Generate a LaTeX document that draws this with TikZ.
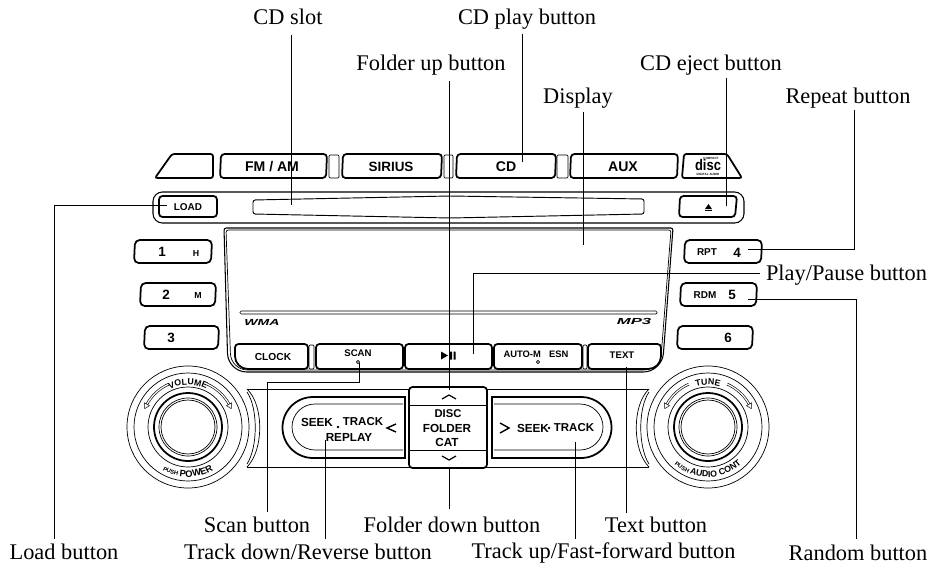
\documentclass[tikz,border=0pt]{standalone}
\usepackage{fontspec}
\setmainfont{Liberation Serif}
\setsansfont{Liberation Sans}
\usetikzlibrary{calc, decorations.text}
\tikzset{
  lbl/.style={font=\fontsize{19.1}{20}\selectfont, inner sep=0pt, anchor=base},
  txt/.style={font=\sffamily\bfseries\fontsize{#1}{#1}\selectfont, inner sep=0pt},
  logo/.style={font=\sffamily\bfseries\itshape\fontsize{7.5}{8}\selectfont, inner sep=0pt},
  btn/.style={line width=1.5pt, rounded corners=3, fill=white},
  thinl/.style={line width=0.6pt},
  lead/.style={line width=0.6pt},
}
\newcommand{\arctext}[1]{\sffamily\bfseries\fontsize{#1}{#1}\selectfont}
\begin{document}
\begin{tikzpicture}[x=0.03cm, y=-0.03cm]
\useasboundingbox (0,0) rectangle (928,563);
% top row
\draw[btn, rounded corners=2] (155,178) -- (172,154) -- (213,154) -- (213,178) -- cycle;
\foreach \xa/\xb in {220/327, 342/442, 456/556, 570/678} {
\draw[btn] (\xa+1,154) -- (\xb,154) -- (\xb-1,178) -- (\xa,178) -- cycle;}
\foreach \xa/\xb in {329/339, 444/453, 557/568} {
\draw[thinl, rounded corners=1] (\xa,155) rectangle (\xb,178);}
\draw[btn, rounded corners=2] (684,154) -- (727,154) -- (742,178) -- (682,178) -- cycle;
\node[txt=12] (fmam) at (272,167) {FM / AM};
\node[txt=11.5] (sirius) at (391,167) {SIRIUS};
\node[txt=12] (cdbtn) at (506,167) {CD};
\node[txt=12] (aux) at (623,167) {AUX};
\node[txt=13, xscale=0.85] (disclogo) at (708,165.5) {disc};
\node[txt=2.6] (compact) at (711,158) {COMPACT};
\node[txt=2.6] (digital) at (708,174) {DIGITAL AUDIO};
% slot panel
\draw[thinl, line width=0.9pt, rounded corners=8] (153,192) rectangle (744,223);
\draw[btn] (159,196) rectangle (217,217);
\node[txt=8.5] (load) at (188,207) {LOAD};
\draw[thinl, line width=0.8pt, rounded corners=2] (253,200) -- (450,196) -- (644,199) -- (644,214) -- (450,218) -- (253,214) -- cycle;
\draw[btn] (680,196) -- (737,196) -- (735,217) -- (679,217) -- cycle;
\fill (705,209) -- (708.5,204) -- (712,209) -- cycle;
\fill (705,209.5) rectangle (712,211);
% display
\draw[thinl, line width=0.9pt] (224,228) [rounded corners=2] -- (673,228) [rounded corners=16] -- (662,372) -- (228,372) [rounded corners=2] -- cycle;
\draw[thinl] (226,230) [rounded corners=2] -- (671,230) [rounded corners=14] -- (660,370) -- (231,370) [rounded corners=2] -- cycle;
\draw[line width=0.5pt, rounded corners=1] (240,311) rectangle (657,314);
\node[logo, xscale=1.6] (wma) at (262,322) {WMA};
\node[logo, xscale=1.9] (mpt) at (634,321) {MP3};
\draw[btn, rounded corners=3] (235,344) -- (308,344) -- (308,369) [rounded corners=11] -- (235,369) [rounded corners=3] -- cycle;
\draw[btn, rounded corners=3] (588,344) -- (661,344) [rounded corners=11] -- (661,369) [rounded corners=3] -- (588,369) -- cycle;
\foreach \xa/\xb in {316/403, 405/492, 494/582} {
\draw[btn] (\xa,344) rectangle (\xb,369);}
\foreach \xa/\xb in {309/314, 583/587} {
\draw[thinl, rounded corners=1] (\xa,345) rectangle (\xb,369);}
\node[txt=8.7] (clock) at (273,357) {CLOCK};
\node[txt=8.2] (scan) at (358,353) {SCAN};
\draw[thinl] (358,362) circle (1.6);
\fill (441,351.5) -- (448,355.5) -- (441,359.5) -- cycle;
\fill (450,351.5) rectangle (452,359.5) (453.5,351.5) rectangle (455.5,359.5);
\node[txt=8] (auto) at (536,354) {AUTO-M\hspace{7pt}ESN};
\draw[thinl] (538,362) circle (1.6);
\node[txt=8.2] (text) at (622,355) {TEXT};
% preset buttons
\foreach \xa/\xb/\ya in {134/212/240, 140/216/283, 144/219/326, 684/762/240, 680/757/283, 677/753/326} {
\draw[btn, rounded corners=4] (\xa+1,\ya) -- (\xb,\ya) -- (\xb-1,\ya+23) -- (\xa,\ya+23) -- cycle;}
\foreach \n/\px/\py/\t/\s in {one/162/252/1/11.5, h/196/253/H/7.5, two/166/295/2/11.5, m/198/295/M/7.5, three/171/338/3/11.5, rpt/707/252/RPT/8.5, four/737/253/4/11.5, rdm/705/295/RDM/8.5, five/732/295/5/11.5, six/728/338/6/11.5} {
\node[txt=\s] (\n) at (\px,\py) {\t};}
% knobs
\foreach \cx in {188, 708} {
\draw[thinl] (\cx,427) circle (61) (\cx,427) circle (54) (\cx,427) circle (40);
\draw[line width=1.5pt] (\cx,427) circle (34);
\draw[thinl] (\cx,427) circle (29) (\cx,427) circle (27);
\foreach \a/\b/\c in {-114/-151/-157, -66/-29/-23} {
\draw[line width=0.4pt] (\cx,427) ++(\a:46) arc (\a:\b:46) (\cx,427) ++(\a:48) arc (\a:\b:48);
\draw[line width=0.4pt] ($(\cx,427)+(\b:44)$) -- ($(\cx,427)+(\c:47)$) -- ($(\cx,427)+(\b:50)$) -- cycle;}
}
\path[decorate, decoration={text along path, text align=center, text={|\arctext{7.5}|VOLUME}}] (188,427) ++(-130:42) arc (-130:-50:42);
\path[decorate, decoration={text along path, text align=center, text={|\arctext{7.5}|TUNE}}] (708,427) ++(-130:42) arc (-130:-50:42);
\path[decorate, decoration={text along path, text align=center, text={|\arctext{5}|PUSH |\arctext{8}|POWER}}] (188,427) ++(130:50) arc (130:50:50);
\path[decorate, decoration={text along path, text align=center, text={|\arctext{5}|PUSH  |\arctext{7.5}|AUDIO CONT}}] (708,427) ++(145:50) arc (145:35:50);
% centre panel
\draw[thinl] (247,389) -- (649,389) (247,467) -- (649,467);
\draw[thinl] (247,389) .. controls (264,405) and (264,450) .. (247,467);
\draw[thinl] (247,392) .. controls (258,408) and (258,447) .. (247,464);
\draw[thinl] (649,389) .. controls (632,405) and (632,450) .. (649,467);
\draw[thinl] (649,392) .. controls (638,408) and (638,447) .. (649,464);
\draw[line width=1.5pt, fill=white] (405,397) -- (313,397) arc (-90:-270:30.5) -- (405,458) -- cycle;
\draw[thinl] (403,404) -- (315,404) arc (-90:-270:23) -- (403,450);
\draw[line width=1.5pt, fill=white] (492,397) -- (581,397) arc (-90:90:30.5) -- (492,458) -- cycle;
\draw[thinl] (494,404) -- (580,404) arc (-90:90:23) -- (494,450);
\draw[btn] (409,387) rectangle (487,468);
\draw[thinl] (409,405) -- (487,405) (409,450) -- (487,450);
\draw[line width=1pt] (442,399) -- (449,395) -- (456,399);
\draw[line width=1pt] (442,456) -- (449,460) -- (456,456);
\node[txt=9.6] (disc) at (448,414) {DISC};
\node[txt=10] (folder) at (447,428) {FOLDER};
\node[txt=10] (cat) at (447,442) {CAT};
\node[txt=10] (seekl) at (317,422) {SEEK};
\node[txt=9.8] (trackl) at (363,422) {TRACK};
\node[txt=10] (replay) at (349,437) {REPLAY};
\fill (338,427) circle (1.4);
\draw[line width=1.2pt] (396,424) -- (387,428) -- (396,432);
\draw[line width=1.2pt] (500,423) -- (509,428) -- (500,433);
\node[txt=10] (seekr) at (533,428) {SEEK};
\fill (549,428) circle (1.4);
\node[txt=9.8] (trackr) at (574,428) {TRACK};
% leaders
\foreach \n/\px/\py/\t in {lslot/288/25/CD slot, lplay/527/25/CD play button, lup/431/70/Folder up button, ldisp/578/103/Display, leject/711/70/CD eject button, lrpt/848/103/Repeat button, lpp/846.5/280/{Play/Pause button}, lscan/257/532/Scan button, ldown/452/532/Folder down button, ltxt/656/532/Text button, lload/64/559/Load button, ltrack/308/559/{Track down/Reverse button}, lfwd/603.5/558/{Track up/Fast-forward button}, lrdm/858/560/Random button} {
\node[lbl] (\n) at (\px,\py) {\t};}
\coordinate (pslot) at (291,205); \coordinate (pplay) at (522,162);
\coordinate (pup) at (449,390); \coordinate (pdisp) at (583,245);
\coordinate (pej) at (726,206); \coordinate (prpt) at (748,249);
\coordinate (ppp) at (473,354); \coordinate (pscan) at (359,363);
\coordinate (pdown) at (449,468); \coordinate (ptxt) at (626,367);
\coordinate (pload) at (167,205); \coordinate (ptrack) at (325,440);
\coordinate (pfwd) at (575,442); \coordinate (prdm) at (748,299);
\foreach \l/\p/\g in {lslot/pslot/10, lplay/pplay/9, lup/pup/11, ldisp/pdisp/9, leject/pej/8, ldown/pdown/-23, ltxt/ptxt/-19, ltrack/ptrack/-20, lfwd/pfwd/-19} {
\draw[lead] ($(\l.base -| \p)+(0,\g)$) -- (\p);}
\draw[lead] ($(lrpt.base)+(6,7)$) |- (prpt);
\draw[lead] (ppp) |- ($(lpp.base west)+(-6,-7)$);
\draw[lead] (pscan) |- (267,382) -- ($(lscan.base -| 267,0)+(0,-20)$);
\draw[lead] ($(lload.base -| 54,0)+(0,-20)$) |- (pload);
\draw[lead] (prdm) -| ($(lrdm.base)+(-2,-21)$);
\end{tikzpicture}
\end{document}
